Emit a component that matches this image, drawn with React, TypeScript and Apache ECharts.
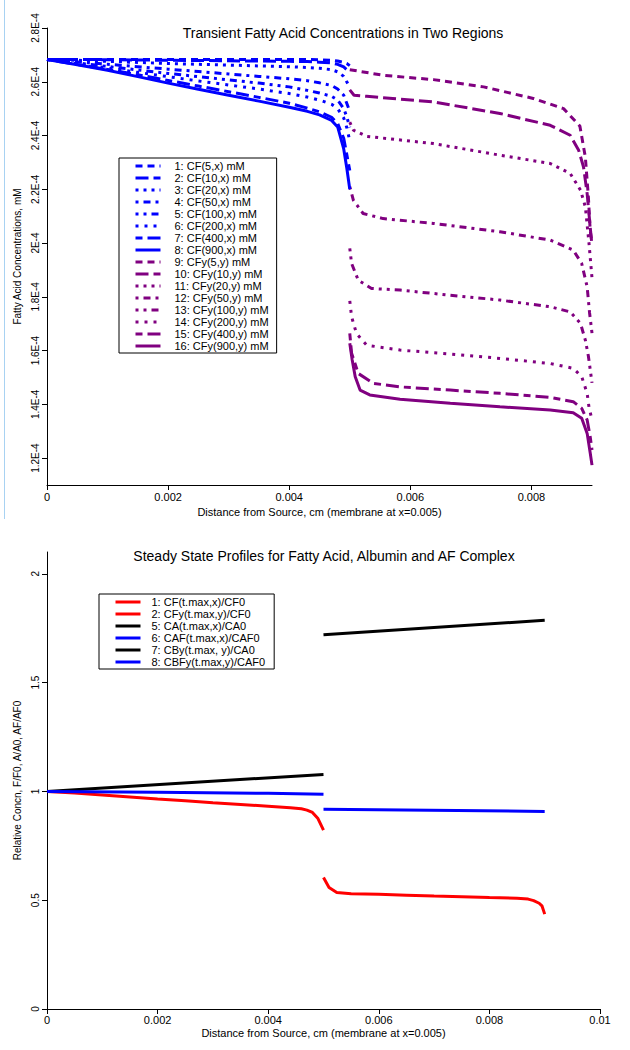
import React, { useEffect, useRef } from "react";
import * as echarts from "echarts";

const FONT = '"Liberation Sans", Arial, sans-serif';
const BLUE = "#0000ff";
const PURPLE = "#800080";

// ---------- Top chart: transient fatty acid concentrations ----------
const TOP_TITLE = "Transient Fatty Acid Concentrations in Two Regions";
const TOP_X_NAME = "Distance from Source, cm (membrane at x=0.005)";
const TOP_Y_NAME = "Fatty Acid Concentrations, mM";
const TOP_X_TICKS = [0, 0.002, 0.004, 0.006, 0.008];
const TOP_Y_TICKS = [1.2e-4, 1.4e-4, 1.6e-4, 1.8e-4, 2.0e-4, 2.2e-4, 2.4e-4, 2.6e-4, 2.8e-4];

// x-region (0..0.005 cm) sample positions
const BLUE_X = [0, 0.0005, 0.001, 0.0015, 0.002, 0.0025, 0.003, 0.0035, 0.004, 0.0043, 0.0045, 0.0047, 0.0048, 0.0049, 0.00495, 0.005];
// values in units of 1e-4 mM
const CF5_X = [2.683, 2.683, 2.683, 2.683, 2.683, 2.683, 2.683, 2.683, 2.683, 2.683, 2.682, 2.68, 2.677, 2.672, 2.668, 2.66];
const CF10_X = [2.683, 2.683, 2.682, 2.681, 2.68, 2.679, 2.678, 2.677, 2.676, 2.675, 2.673, 2.67, 2.665, 2.655, 2.645, 2.635];
const CF20_X = [2.683, 2.68, 2.676, 2.672, 2.668, 2.665, 2.662, 2.659, 2.656, 2.653, 2.65, 2.645, 2.637, 2.62, 2.6, 2.58];
const CF50_X = [2.683, 2.674, 2.665, 2.656, 2.647, 2.638, 2.629, 2.62, 2.611, 2.604, 2.596, 2.586, 2.573, 2.55, 2.52, 2.49];
const CF100_X = [2.683, 2.67, 2.657, 2.644, 2.631, 2.619, 2.607, 2.595, 2.581, 2.568, 2.558, 2.546, 2.532, 2.5, 2.47, 2.43];
const CF200_X = [2.683, 2.667, 2.651, 2.635, 2.619, 2.603, 2.588, 2.573, 2.556, 2.543, 2.532, 2.516, 2.5, 2.465, 2.43, 2.38];
const CF400_X = [2.683, 2.664, 2.646, 2.626, 2.605, 2.584, 2.563, 2.542, 2.52, 2.502, 2.488, 2.468, 2.445, 2.39, 2.33, 2.27];
const CF900_X = [2.683, 2.663, 2.643, 2.619, 2.595, 2.572, 2.55, 2.528, 2.505, 2.49, 2.477, 2.456, 2.432, 2.35, 2.28, 2.2];

// y-region (0.005..0.009 cm): [x cm, value 1e-4 mM]
const CFY5: [number, number][] = [[0.005, 2.645], [0.00555, 2.624], [0.00638, 2.608], [0.00721, 2.581], [0.00803, 2.538], [0.00853, 2.5], [0.0088, 2.435], [0.00889, 2.32], [0.00894, 2.172], [0.00897, 2.048], [0.009, 2.0]];
const CFY10: [number, number][] = [[0.005, 2.57], [0.00507, 2.55], [0.00528, 2.546], [0.00638, 2.525], [0.00748, 2.482], [0.00831, 2.438], [0.00864, 2.401], [0.00878, 2.345], [0.00886, 2.283], [0.00892, 2.184], [0.00897, 2.06], [0.009, 1.99]];
const CFY20: [number, number][] = [[0.005, 2.45], [0.00506, 2.42], [0.00528, 2.397], [0.00638, 2.37], [0.00748, 2.327], [0.00831, 2.296], [0.00864, 2.259], [0.00881, 2.197], [0.00889, 2.135], [0.00895, 2.0], [0.009, 1.87]];
const CFY50: [number, number][] = [[0.005, 2.21], [0.00506, 2.159], [0.00522, 2.11], [0.00555, 2.091], [0.00638, 2.073], [0.00748, 2.042], [0.00831, 2.011], [0.00869, 1.974], [0.00883, 1.924], [0.00892, 1.837], [0.00896, 1.74], [0.009, 1.665]];
const CFY100: [number, number][] = [[0.005, 1.98], [0.00503, 1.924], [0.00514, 1.862], [0.00536, 1.831], [0.00583, 1.825], [0.00666, 1.806], [0.00748, 1.788], [0.00831, 1.763], [0.00864, 1.744], [0.00881, 1.701], [0.00889, 1.639], [0.00894, 1.58], [0.009, 1.48]];
const CFY200: [number, number][] = [[0.005, 1.785], [0.00503, 1.726], [0.00511, 1.664], [0.00528, 1.62], [0.00583, 1.602], [0.00666, 1.587], [0.00748, 1.571], [0.00831, 1.552], [0.00869, 1.534], [0.00883, 1.503], [0.00892, 1.441], [0.00895, 1.39], [0.009, 1.342]];
const CFY400: [number, number][] = [[0.005, 1.664], [0.00503, 1.59], [0.00514, 1.515], [0.00539, 1.478], [0.00583, 1.465], [0.00666, 1.453], [0.00748, 1.441], [0.00831, 1.426], [0.00869, 1.41], [0.00883, 1.385], [0.00892, 1.342], [0.00897, 1.28], [0.009, 1.23]];
const CFY900: [number, number][] = [[0.005, 1.627], [0.00504, 1.565], [0.00509, 1.503], [0.00517, 1.453], [0.00533, 1.435], [0.00583, 1.419], [0.00666, 1.404], [0.00748, 1.391], [0.00831, 1.379], [0.00869, 1.369], [0.00883, 1.348], [0.00892, 1.292], [0.00897, 1.22], [0.009, 1.174]];

// dash patterns for t = 5,10,20,50,100,200,400,900
const DASHES: (number[] | "solid")[] = [
  [7, 5],
  [13, 5],
  [3, 5],
  [3, 5, 7, 5],
  [3, 5, 3, 5, 7, 5],
  [3, 6],
  [7, 5, 13, 5],
  "solid",
];
const TIMES = [5, 10, 20, 50, 100, 200, 400, 900];
const X_SERIES = [CF5_X, CF10_X, CF20_X, CF50_X, CF100_X, CF200_X, CF400_X, CF900_X];
const Y_SERIES = [CFY5, CFY10, CFY20, CFY50, CFY100, CFY200, CFY400, CFY900];

// ---------- Bottom chart: steady state profiles ----------
const BOT_TITLE = "Steady State Profiles for Fatty Acid, Albumin and AF Complex";
const BOT_X_NAME = "Distance from Source, cm (membrane at x=0.005)";
const BOT_Y_NAME = "Relative Concn, F/F0, A/A0, AF/AF0";
const BOT_Y_TICKS = [0, 0.5, 1, 1.5, 2];

const SS_CF_X: [number, number][] = [[0, 1.0], [0.0005, 0.992], [0.001, 0.983], [0.0015, 0.974], [0.002, 0.965], [0.0025, 0.957], [0.003, 0.948], [0.0035, 0.94], [0.004, 0.932], [0.0044, 0.925], [0.0046, 0.92], [0.0047, 0.914], [0.0048, 0.903], [0.0049, 0.875], [0.005, 0.822]];
const SS_CFY_Y: [number, number][] = [[0.005, 0.604], [0.0051, 0.558], [0.00524, 0.535], [0.0055, 0.53], [0.006, 0.527], [0.0065, 0.523], [0.007, 0.519], [0.0075, 0.516], [0.008, 0.512], [0.0085, 0.509], [0.0087, 0.505], [0.0088, 0.498], [0.0089, 0.486], [0.00895, 0.474], [0.009, 0.436]];
const SS_CA_X: [number, number][] = [[0, 1.0], [0.005, 1.078]];
const SS_CAF_X: [number, number][] = [[0, 1.0], [0.002, 0.996], [0.004, 0.991], [0.005, 0.987]];
const SS_CBY_Y: [number, number][] = [[0.005, 1.72], [0.009, 1.786]];
const SS_CBFY_Y: [number, number][] = [[0.005, 0.918], [0.009, 0.908]];

const BOT_NAMES = [
  "1: CF(t.max,x)/CF0",
  "2: CFy(t.max,y)/CF0",
  "5: CA(t.max,x)/CA0",
  "6: CAF(t.max,x)/CAF0",
  "7: CBy(t.max, y)/CA0",
  "8: CBFy(t.max,y)/CAF0",
];
const BOT_DATA = [SS_CF_X, SS_CFY_Y, SS_CA_X, SS_CAF_X, SS_CBY_Y, SS_CBFY_Y];
const BOT_COLORS = ["#ff0000", "#ff0000", "#000000", "#0000ff", "#000000", "#0000ff"];

function fmtE4(v: number): string {
  const m = Math.round(v * 1e5) / 10;
  return (Math.abs(m - Math.round(m)) < 1e-9 ? String(Math.round(m)) : m.toFixed(1)) + "E-4";
}
function fmtX(v: number): string {
  if (Math.abs(v) < 1e-12) return "0";
  return String(parseFloat(v.toFixed(4)));
}

function buildOption() {
  const topNames: string[] = [];
  const series: any[] = [];
  TIMES.forEach((t, i) => {
    const name = `${i + 1}: CF(${t},x) mM`;
    topNames.push(name);
    series.push({
      name,
      type: "line",
      xAxisIndex: 0,
      yAxisIndex: 0,
      symbol: "none",
      showSymbol: false,
      color: BLUE,
      lineStyle: { color: BLUE, width: 3, type: DASHES[i] },
      data: BLUE_X.map((x, k) => [x, X_SERIES[i][k] * 1e-4]),
      z: 2 + i,
    });
  });
  TIMES.forEach((t, i) => {
    const name = `${i + 9}: CFy(${t},y) mM`;
    topNames.push(name);
    series.push({
      name,
      type: "line",
      xAxisIndex: 0,
      yAxisIndex: 0,
      symbol: "none",
      showSymbol: false,
      color: PURPLE,
      lineStyle: { color: PURPLE, width: 3, type: DASHES[i] },
      data: Y_SERIES[i].map(([x, v]) => [x, v * 1e-4]),
      z: 2 + i,
    });
  });
  BOT_NAMES.forEach((name, i) => {
    series.push({
      name,
      type: "line",
      xAxisIndex: 1,
      yAxisIndex: 1,
      symbol: "none",
      showSymbol: false,
      color: BOT_COLORS[i],
      lineStyle: { color: BOT_COLORS[i], width: 3, type: "solid" },
      data: BOT_DATA[i],
    });
  });

  const axisCommon = {
    type: "value" as const,
    axisLine: { show: true, onZero: false, lineStyle: { color: "#000", width: 1 } },
    splitLine: { show: false },
    nameLocation: "middle" as const,
  };

  return {
    animation: false,
    backgroundColor: "#fff",
    textStyle: { fontFamily: FONT },
    title: [
      {
        text: TOP_TITLE,
        left: 343,
        top: 26,
        textAlign: "center",
        padding: 0,
        textStyle: { fontSize: 14, fontWeight: "normal", color: "#000", fontFamily: FONT },
      },
      {
        text: BOT_TITLE,
        left: 324,
        top: 549,
        textAlign: "center",
        padding: 0,
        textStyle: { fontSize: 14, fontWeight: "normal", color: "#000", fontFamily: FONT },
      },
    ],
    graphic: [
      {
        type: "line",
        shape: { x1: 4.5, y1: 0, x2: 4.5, y2: 519 },
        style: { stroke: "#a8d2f2", lineWidth: 1 },
        silent: true,
      },
    ],
    legend: [
      {
        data: topNames,
        orient: "vertical",
        left: 119,
        top: 158,
        padding: [2, 8, 1, 15],
        itemWidth: 25,
        itemHeight: 10,
        itemGap: 0,
        selectedMode: false,
        borderColor: "#000",
        borderWidth: 1,
        itemStyle: { opacity: 0 },
        lineStyle: { width: 3 },
        textStyle: { fontSize: 11, lineHeight: 12, color: "#000", fontFamily: FONT, padding: [0, 0, 0, 9] },
      },
      {
        data: BOT_NAMES,
        orient: "vertical",
        left: 99,
        top: 594,
        padding: [2, 9, 1, 15],
        itemWidth: 25,
        itemHeight: 10,
        itemGap: 0,
        selectedMode: false,
        borderColor: "#000",
        borderWidth: 1,
        itemStyle: { opacity: 0 },
        lineStyle: { width: 3 },
        textStyle: { fontSize: 11, lineHeight: 12, color: "#000", fontFamily: FONT, padding: [0, 0, 0, 6] },
      },
    ],
    grid: [
      { left: 47, top: 28, width: 545, height: 457, containLabel: false },
      { left: 47, top: 552, width: 553, height: 457, containLabel: false },
    ],
    xAxis: [
      {
        ...axisCommon,
        gridIndex: 0,
        min: 0,
        max: 0.009,
        axisTick: { show: true, length: 5, customValues: TOP_X_TICKS, lineStyle: { color: "#000" } },
        axisLabel: { customValues: TOP_X_TICKS, formatter: fmtX, fontSize: 11, color: "#000", margin: 6, fontFamily: FONT },
        name: TOP_X_NAME,
        nameGap: 21,
        nameTextStyle: { fontSize: 11, color: "#000", fontFamily: FONT },
      },
      {
        ...axisCommon,
        gridIndex: 1,
        min: 0,
        max: 0.01,
        interval: 0.002,
        axisTick: { show: true, length: 5, lineStyle: { color: "#000" } },
        axisLabel: { formatter: fmtX, fontSize: 11, color: "#000", margin: 5, fontFamily: FONT },
        name: BOT_X_NAME,
        nameGap: 18,
        nameTextStyle: { fontSize: 11, color: "#000", fontFamily: FONT },
      },
    ],
    yAxis: [
      {
        ...axisCommon,
        gridIndex: 0,
        min: 1.1e-4,
        max: 2.8e-4,
        axisTick: { show: true, length: 5, customValues: TOP_Y_TICKS, lineStyle: { color: "#000" } },
        axisLabel: { customValues: TOP_Y_TICKS, formatter: fmtE4, rotate: 90, fontSize: 10, color: "#000", margin: 7, fontFamily: FONT },
        name: TOP_Y_NAME,
        nameRotate: 90,
        nameGap: 22,
        nameTextStyle: { fontSize: 10, color: "#000", fontFamily: FONT },
      },
      {
        ...axisCommon,
        gridIndex: 1,
        min: 0,
        max: 2.1,
        axisTick: { show: true, length: 5, customValues: BOT_Y_TICKS, lineStyle: { color: "#000" } },
        axisLabel: { customValues: BOT_Y_TICKS, formatter: (v: number) => String(v), rotate: 90, fontSize: 10, color: "#000", margin: 7, fontFamily: FONT },
        name: BOT_Y_NAME,
        nameRotate: 90,
        nameGap: 22,
        nameTextStyle: { fontSize: 10, color: "#000", fontFamily: FONT },
      },
    ],
    series,
  };
}

export default function App() {
  const ref = useRef<HTMLDivElement>(null);
  useEffect(() => {
    document.body.style.margin = "0";
    if (!ref.current) return;
    const chart = echarts.init(ref.current, undefined, { renderer: "svg" });
    chart.setOption(buildOption() as any);
    return () => chart.dispose();
  }, []);
  return <div ref={ref} style={{ width: 630, height: 1050, background: "#fff" }} />;
}
